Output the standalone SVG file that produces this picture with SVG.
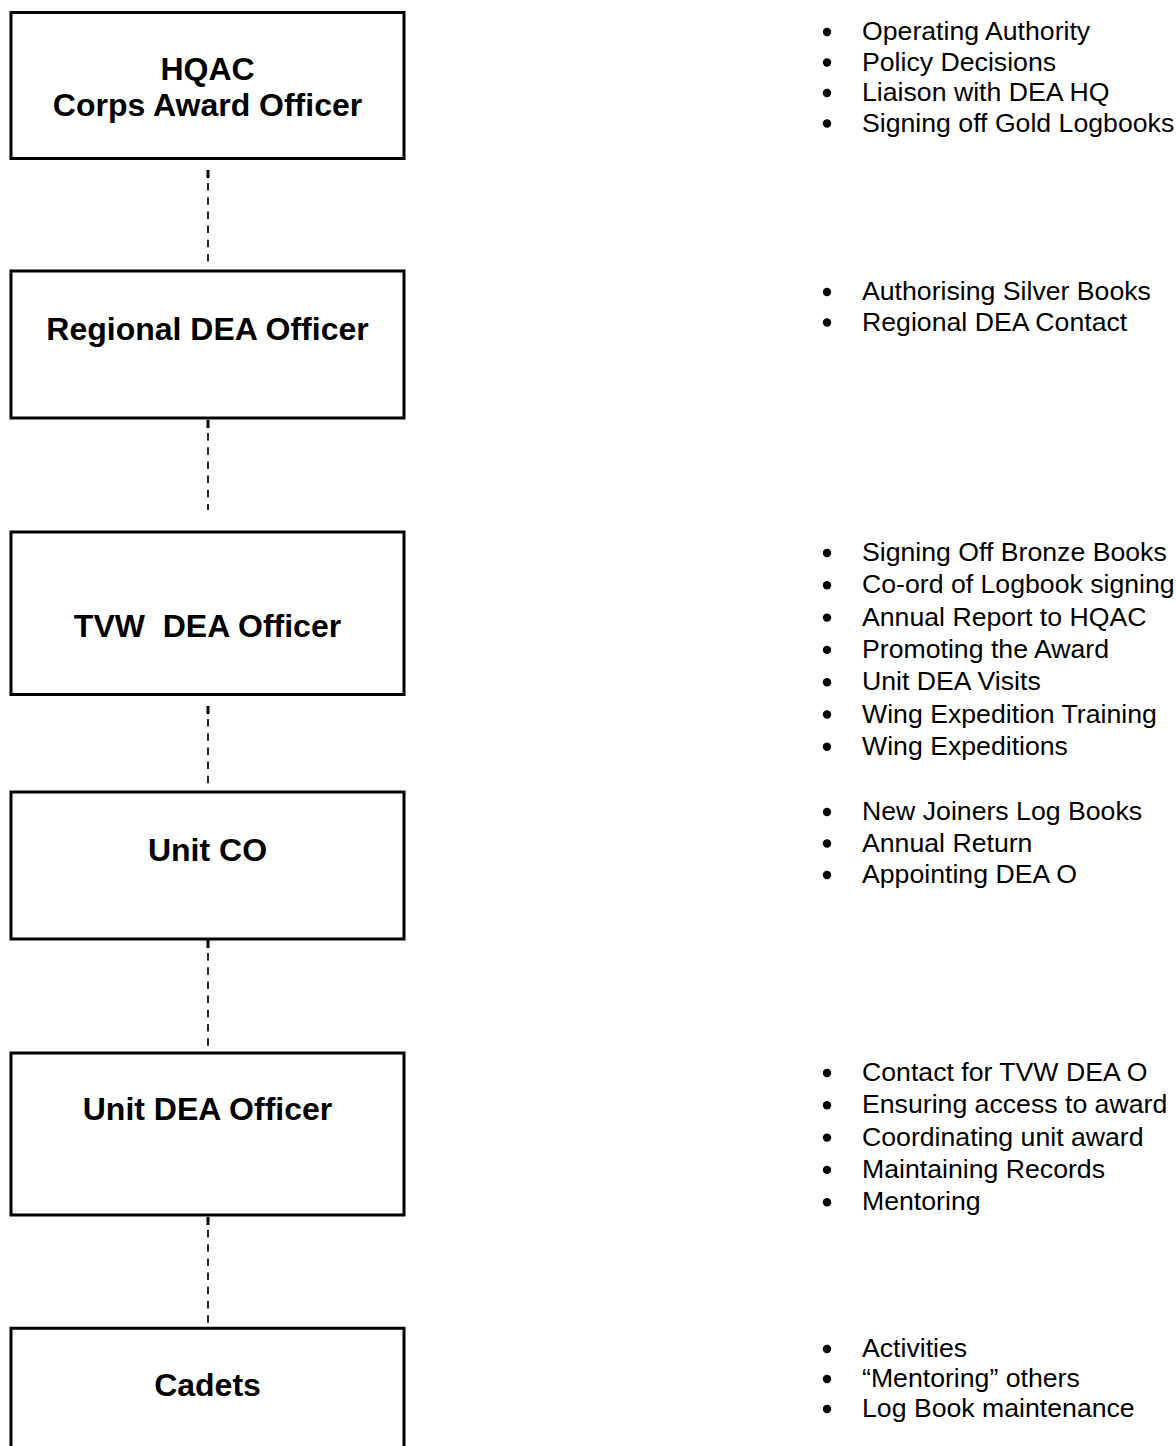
<svg xmlns="http://www.w3.org/2000/svg" width="1176" height="1446" viewBox="0 0 1176 1446">
<style>
.box{fill:#fff;stroke:#000;stroke-width:3}
.t{font-family:"Liberation Sans",Arial,sans-serif;font-weight:bold;font-size:32px;fill:#000;text-anchor:middle}
.b{font-family:"Liberation Sans",Arial,sans-serif;font-size:26.67px;fill:#000}
.dot{fill:#000}
.dash{stroke:#000;stroke-width:1.7;stroke-dasharray:7.5 6.7;fill:none}
.thick{stroke:#000;stroke-width:3;fill:none}
</style>
<rect width="1176" height="1446" fill="#fff"/>
<g id="connectors">
<path class="thick" d="M208 170V178"/><path class="dash" d="M208 183V262"/>
<path class="thick" d="M208 420V428"/><path class="dash" d="M208 433V510"/>
<path class="thick" d="M208 706V714"/><path class="dash" d="M208 719V785"/>
<path class="thick" d="M208 940V948"/><path class="dash" d="M208 953V1050"/>
<path class="thick" d="M208 1217V1225"/><path class="dash" d="M208 1230V1326"/>
</g>
<g id="hqac">
<rect class="box" x="11" y="12.5" width="393" height="146"/>
<text class="t" x="207.5" y="79.5">HQAC</text>
<text class="t" x="207.5" y="115.5">Corps Award Officer</text>
<g class="b">
<circle class="dot" cx="827" cy="32" r="4.2"/><text x="862" y="40">Operating Authority</text>
<circle class="dot" cx="827" cy="62.5" r="4.2"/><text x="862" y="70.5">Policy Decisions</text>
<circle class="dot" cx="827" cy="93" r="4.2"/><text x="862" y="101">Liaison with DEA HQ</text>
<circle class="dot" cx="827" cy="123.5" r="4.2"/><text x="862" y="131.5">Signing off Gold Logbooks</text>
</g>
</g>
<g id="regional">
<rect class="box" x="11" y="271" width="393" height="147"/>
<text class="t" x="207.5" y="340">Regional DEA Officer</text>
<g class="b">
<circle class="dot" cx="827" cy="292" r="4.2"/><text x="862" y="300">Authorising Silver Books</text>
<circle class="dot" cx="827" cy="322.5" r="4.2"/><text x="862" y="330.5">Regional DEA Contact</text>
</g>
</g>
<g id="tvw">
<rect class="box" x="11" y="532" width="393" height="162.5"/>
<text class="t" x="207.5" y="637" xml:space="preserve" style="white-space:pre">TVW  DEA Officer</text>
<g class="b">
<circle class="dot" cx="827" cy="553" r="4.2"/><text x="862" y="561">Signing Off Bronze Books</text>
<circle class="dot" cx="827" cy="585.3" r="4.2"/><text x="862" y="593.3">Co-ord of Logbook signing</text>
<circle class="dot" cx="827" cy="617.6" r="4.2"/><text x="862" y="625.6">Annual Report to HQAC</text>
<circle class="dot" cx="827" cy="649.9" r="4.2"/><text x="862" y="657.9">Promoting the Award</text>
<circle class="dot" cx="827" cy="682.2" r="4.2"/><text x="862" y="690.2">Unit DEA Visits</text>
<circle class="dot" cx="827" cy="714.5" r="4.2"/><text x="862" y="722.5">Wing Expedition Training</text>
<circle class="dot" cx="827" cy="746.8" r="4.2"/><text x="862" y="754.8">Wing Expeditions</text>
</g>
</g>
<g id="unitco">
<rect class="box" x="11" y="792" width="393" height="147"/>
<text class="t" x="207.5" y="861">Unit CO</text>
<g class="b">
<circle class="dot" cx="827" cy="812" r="4.2"/><text x="862" y="820">New Joiners Log Books</text>
<circle class="dot" cx="827" cy="843.5" r="4.2"/><text x="862" y="851.5">Annual Return</text>
<circle class="dot" cx="827" cy="875" r="4.2"/><text x="862" y="883">Appointing DEA O</text>
</g>
</g>
<g id="unitdea">
<rect class="box" x="11" y="1053" width="393" height="162"/>
<text class="t" x="207.5" y="1120">Unit DEA Officer</text>
<g class="b">
<circle class="dot" cx="827" cy="1073" r="4.2"/><text x="862" y="1081">Contact for TVW DEA O</text>
<circle class="dot" cx="827" cy="1105.3" r="4.2"/><text x="862" y="1113.3">Ensuring access to award</text>
<circle class="dot" cx="827" cy="1137.6" r="4.2"/><text x="862" y="1145.6">Coordinating unit award</text>
<circle class="dot" cx="827" cy="1169.9" r="4.2"/><text x="862" y="1177.9">Maintaining Records</text>
<circle class="dot" cx="827" cy="1202.2" r="4.2"/><text x="862" y="1210.2">Mentoring</text>
</g>
</g>
<g id="cadets">
<path class="box" d="M11 1446V1328.3H404V1446"/>
<text class="t" x="207.5" y="1396">Cadets</text>
<g class="b">
<circle class="dot" cx="827" cy="1349" r="4.2"/><text x="862" y="1357">Activities</text>
<circle class="dot" cx="827" cy="1379" r="4.2"/><text x="862" y="1387">“Mentoring” others</text>
<circle class="dot" cx="827" cy="1409" r="4.2"/><text x="862" y="1417">Log Book maintenance</text>
</g>
</g>
</svg>
